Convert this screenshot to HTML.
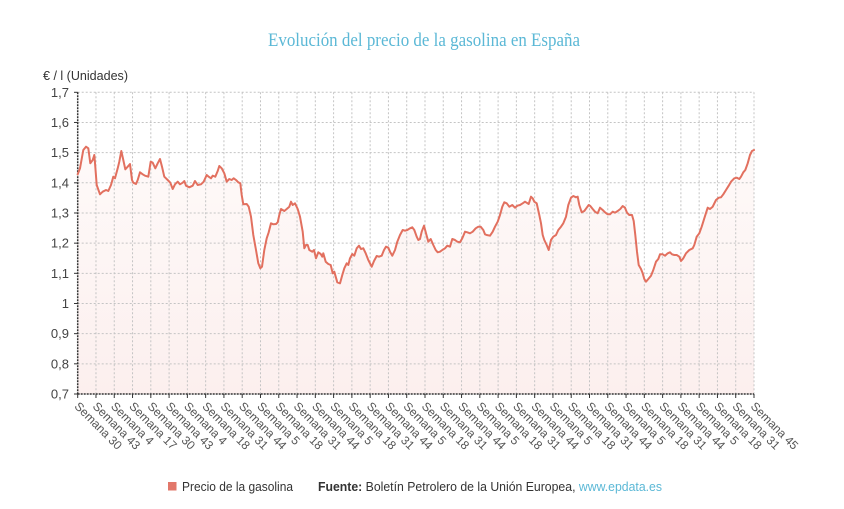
<!DOCTYPE html>
<html><head><meta charset="utf-8"><style>
html,body{margin:0;padding:0;background:#fff;}
svg{display:block;}
</style></head><body>
<svg width="844" height="509" viewBox="0 0 844 509" xmlns="http://www.w3.org/2000/svg">
<defs>
<linearGradient id="fg" x1="0" y1="145" x2="0" y2="394" gradientUnits="userSpaceOnUse">
<stop offset="0" stop-color="#fefaf9"/>
<stop offset="1" stop-color="#fcefee"/>
</linearGradient>
</defs>
<rect width="844" height="509" fill="#fff"/>
<text x="424" y="46" text-anchor="middle" font-family="Liberation Serif, serif" font-size="18.5" fill="#5bb8d6" textLength="312" lengthAdjust="spacingAndGlyphs">Evolución del precio de la gasolina en España</text>
<text x="43" y="80" font-family="Liberation Sans, sans-serif" font-size="13" fill="#333" textLength="85" lengthAdjust="spacingAndGlyphs">€ / l (Unidades)</text>

<polygon fill="url(#fg)" points="77.7,174.3 80,168.3 83.3,150 86,146.7 88.3,148.3 90.3,163.3 92.7,160 94.3,155 95.3,166.7 96.7,185 100,194.3 102.7,191.7 106,190 108.3,191 111,185 113.3,176.7 115,178.3 117.7,168.3 119.3,161.7 121.3,151 123.3,160 125.3,169.3 127.7,166.7 130,164 132,180 133.3,182.7 136,184 137.7,180 140,172.3 142.7,174.3 145,175.7 148.3,176.7 150.7,161.7 152.7,162.7 155.3,168.3 157.7,163.3 160,159 162,166.7 164.3,176.7 167.7,180 170.3,182.7 172.7,189 175,184.3 177.7,181.7 180,184.3 182.7,182.7 184.3,181 186,185.7 189.3,187.3 192.7,185.7 195,181 197.7,185 201,184.3 203.7,181.7 206.7,175 208.7,176.7 211,178.3 212.7,175.7 215.3,176.7 217.7,171 219.3,166 221.7,168.3 224.3,173.3 226.7,181.7 229.3,179 231.7,180 233.7,178.3 236,180 238.3,182.3 240.3,183.3 241.7,195 243.3,204.3 246.7,204 248.7,206.7 251,216.7 253.3,235 256,250 258.3,263.3 260.3,268.3 262,266.7 264.3,250 266.7,238.3 268.7,232.3 271,223.3 273.3,224.3 276,224 277.7,222.3 279.3,215 281,209 284.3,211 286.7,209 289.3,206.7 291,201.7 292.7,205 295,203.3 297.7,209 300,216.7 302.7,231.7 304.3,248.3 306,245 307.7,245 309.3,250 312.3,251.7 314,250 316,258.3 318.3,252.3 320.7,254 322.3,256.7 323.3,253.3 325.7,261.7 328.3,264 330.7,265 332.7,273.3 334.3,271.7 335.7,276.7 337.3,282.3 340,283.3 342.3,275 344.3,268.3 346.7,263.3 348.3,265 350,258.3 352.3,254 354.3,255.7 356.7,248.3 359,245.7 361,249 363.3,248.3 365.7,253.3 368.3,260 371.7,266.7 374,261 376.7,256 379,256.7 381.7,255.7 384,250 386,246.7 388.3,247.7 390,251.7 392.3,255.7 395,250 397.3,241.7 400,235 402.7,230 405,230.7 407.3,230 410,228.3 412.3,227.3 414.3,230 416.7,236.7 418.3,240 420,239 421.7,231.7 424,225.7 426,233.3 428.3,241.7 430.7,239 433.3,245 435.7,250 437.7,252.3 440,251.7 442.3,250 445,248.3 447.3,245.7 450,246.7 452.3,239 455,240 457.3,241.7 460,242.3 462.3,238.3 465,231.7 467.3,232.3 470,233.3 472.7,231.7 475.7,228.3 478.3,226.7 480.7,226.7 483.3,230 485,234.3 486.7,235 490,235.7 492.7,231.7 495,226.7 497.7,221.7 500,215 502.3,206.7 504.3,202.3 506.7,203.3 509.3,206.7 512.3,205 515,207.7 517.3,205.7 520,205 522.7,203.3 525,201.7 528.7,204 531,196.7 532.7,198.3 534.3,201.7 536.7,203.3 539.3,215 541,223.3 542.7,235 544.3,240 546.7,245 548.7,250 551,240 553.3,236.7 556,235 558.3,230 561,226.7 563.3,223.3 566,216.7 568.3,205 571,197.7 573.3,196 576,197.3 577.7,196.7 579.3,205 581.7,212.3 584.3,211 586.7,207.7 588.7,205 590.3,206 592.7,209 595,211.7 597.7,213.3 600,207.7 602.7,210 605,212.3 607.7,214.3 610,214.3 612.7,211.7 615,212.7 617.7,211 620.3,209 622.7,206 625,207.7 627,212.7 629.3,215 632,215 633.7,221 635.3,235 637,251.7 638.7,265 641,269 642.7,273.3 644.3,279 646,281.7 648.3,279 651,275.7 653.3,270 656,261.7 658.3,259 660,254.3 662.7,254.3 665,255.7 667.7,253.3 670,252.3 672,254.3 674.3,255 676.7,255 679.3,256.7 681,261 683.3,258.3 686,253.3 689.3,250 692.7,248.3 694.3,245 696.7,236.7 699.3,233.3 701.7,226.7 704.3,218.3 707.7,207.7 710,209 712.7,206.7 716,200 718.7,197.7 721,197.3 723.3,194.3 726,190 728.7,185.7 731,181.7 734.3,178.3 736.7,177.7 739.3,179 741,176.7 743.3,172.3 745.3,170 747.7,163.3 750,155 752,151 754,150 754,394 77.7,394"/>

<g stroke="#c4c4c4" stroke-width="1" stroke-dasharray="2,2" fill="none" id="grid"></g>

<g id="axes"></g>

<polyline fill="none" stroke="#e2705f" stroke-width="2" stroke-linejoin="round" stroke-linecap="round" points="77.7,174.3 80,168.3 83.3,150 86,146.7 88.3,148.3 90.3,163.3 92.7,160 94.3,155 95.3,166.7 96.7,185 100,194.3 102.7,191.7 106,190 108.3,191 111,185 113.3,176.7 115,178.3 117.7,168.3 119.3,161.7 121.3,151 123.3,160 125.3,169.3 127.7,166.7 130,164 132,180 133.3,182.7 136,184 137.7,180 140,172.3 142.7,174.3 145,175.7 148.3,176.7 150.7,161.7 152.7,162.7 155.3,168.3 157.7,163.3 160,159 162,166.7 164.3,176.7 167.7,180 170.3,182.7 172.7,189 175,184.3 177.7,181.7 180,184.3 182.7,182.7 184.3,181 186,185.7 189.3,187.3 192.7,185.7 195,181 197.7,185 201,184.3 203.7,181.7 206.7,175 208.7,176.7 211,178.3 212.7,175.7 215.3,176.7 217.7,171 219.3,166 221.7,168.3 224.3,173.3 226.7,181.7 229.3,179 231.7,180 233.7,178.3 236,180 238.3,182.3 240.3,183.3 241.7,195 243.3,204.3 246.7,204 248.7,206.7 251,216.7 253.3,235 256,250 258.3,263.3 260.3,268.3 262,266.7 264.3,250 266.7,238.3 268.7,232.3 271,223.3 273.3,224.3 276,224 277.7,222.3 279.3,215 281,209 284.3,211 286.7,209 289.3,206.7 291,201.7 292.7,205 295,203.3 297.7,209 300,216.7 302.7,231.7 304.3,248.3 306,245 307.7,245 309.3,250 312.3,251.7 314,250 316,258.3 318.3,252.3 320.7,254 322.3,256.7 323.3,253.3 325.7,261.7 328.3,264 330.7,265 332.7,273.3 334.3,271.7 335.7,276.7 337.3,282.3 340,283.3 342.3,275 344.3,268.3 346.7,263.3 348.3,265 350,258.3 352.3,254 354.3,255.7 356.7,248.3 359,245.7 361,249 363.3,248.3 365.7,253.3 368.3,260 371.7,266.7 374,261 376.7,256 379,256.7 381.7,255.7 384,250 386,246.7 388.3,247.7 390,251.7 392.3,255.7 395,250 397.3,241.7 400,235 402.7,230 405,230.7 407.3,230 410,228.3 412.3,227.3 414.3,230 416.7,236.7 418.3,240 420,239 421.7,231.7 424,225.7 426,233.3 428.3,241.7 430.7,239 433.3,245 435.7,250 437.7,252.3 440,251.7 442.3,250 445,248.3 447.3,245.7 450,246.7 452.3,239 455,240 457.3,241.7 460,242.3 462.3,238.3 465,231.7 467.3,232.3 470,233.3 472.7,231.7 475.7,228.3 478.3,226.7 480.7,226.7 483.3,230 485,234.3 486.7,235 490,235.7 492.7,231.7 495,226.7 497.7,221.7 500,215 502.3,206.7 504.3,202.3 506.7,203.3 509.3,206.7 512.3,205 515,207.7 517.3,205.7 520,205 522.7,203.3 525,201.7 528.7,204 531,196.7 532.7,198.3 534.3,201.7 536.7,203.3 539.3,215 541,223.3 542.7,235 544.3,240 546.7,245 548.7,250 551,240 553.3,236.7 556,235 558.3,230 561,226.7 563.3,223.3 566,216.7 568.3,205 571,197.7 573.3,196 576,197.3 577.7,196.7 579.3,205 581.7,212.3 584.3,211 586.7,207.7 588.7,205 590.3,206 592.7,209 595,211.7 597.7,213.3 600,207.7 602.7,210 605,212.3 607.7,214.3 610,214.3 612.7,211.7 615,212.7 617.7,211 620.3,209 622.7,206 625,207.7 627,212.7 629.3,215 632,215 633.7,221 635.3,235 637,251.7 638.7,265 641,269 642.7,273.3 644.3,279 646,281.7 648.3,279 651,275.7 653.3,270 656,261.7 658.3,259 660,254.3 662.7,254.3 665,255.7 667.7,253.3 670,252.3 672,254.3 674.3,255 676.7,255 679.3,256.7 681,261 683.3,258.3 686,253.3 689.3,250 692.7,248.3 694.3,245 696.7,236.7 699.3,233.3 701.7,226.7 704.3,218.3 707.7,207.7 710,209 712.7,206.7 716,200 718.7,197.7 721,197.3 723.3,194.3 726,190 728.7,185.7 731,181.7 734.3,178.3 736.7,177.7 739.3,179 741,176.7 743.3,172.3 745.3,170 747.7,163.3 750,155 752,151 754,150"/>

<g id="labels" font-family="Liberation Sans, sans-serif"></g>

<rect x="168" y="482" width="8.5" height="8.5" fill="#e2776a"/>
<text x="182" y="491" font-family="Liberation Sans, sans-serif" font-size="13" fill="#333" textLength="111" lengthAdjust="spacingAndGlyphs">Precio de la gasolina</text>
<text x="318" y="491" font-family="Liberation Sans, sans-serif" font-size="13" fill="#333" textLength="344" lengthAdjust="spacingAndGlyphs"><tspan font-weight="bold">Fuente:</tspan> Boletín Petrolero de la Unión Europea, <tspan fill="#5bb8d6">www.epdata.es</tspan></text>
</svg>
<script>
(function(){
var NS="http://www.w3.org/2000/svg";
var grid=document.getElementById("grid"),axes=document.getElementById("axes"),labels=document.getElementById("labels");
function el(p,t,a,txt){var e=document.createElementNS(NS,t);for(var k in a)e.setAttribute(k,a[k]);if(txt!==undefined)e.textContent=txt;p.appendChild(e);return e;}
var x0=77.7,x1=754,yTop=92.3,yBot=394,n=38,sp=(x1-x0)/(n-1);
var yv=["1,7","1,6","1,5","1,4","1,3","1,2","1,1","1","0,9","0,8","0,7"];
for(var i=0;i<11;i++){var y=yTop+i*(yBot-yTop)/10;
 if(i<10) el(grid,"line",{x1:x0,y1:y,x2:x1,y2:y});
 el(axes,"line",{x1:74,y1:y,x2:x0,y2:y,stroke:"#333","stroke-width":1});
 el(labels,"text",{x:69,y:y+4.5,"text-anchor":"end","font-size":13,fill:"#444"},yv[i]);}
var lab=[30,43,4,17,30,43,4];for(var k=0;k<7;k++)lab.push(18,31,44,5);lab.push(18,31,45);
for(var j=0;j<n;j++){var x=x0+j*sp;
 if(j>0) el(grid,"line",{x1:x,y1:yTop,x2:x,y2:yBot});
 el(axes,"line",{x1:x,y1:yBot,x2:x,y2:yBot+4,stroke:"#333","stroke-width":1});
 var ax=x-4,ay=407;
 el(labels,"text",{x:ax,y:ay,"font-size":12,fill:"#555",transform:"rotate(45 "+ax+" "+ay+")"},"Semana "+lab[j]);}
el(axes,"line",{x1:x0,y1:yTop,x2:x0,y2:yBot,stroke:"#333","stroke-width":1.5,"stroke-dasharray":"2,1"});
el(axes,"line",{x1:x0,y1:yBot,x2:x1,y2:yBot,stroke:"#333","stroke-width":1.5,"stroke-dasharray":"2,1"});
})();
</script>
</body></html>
